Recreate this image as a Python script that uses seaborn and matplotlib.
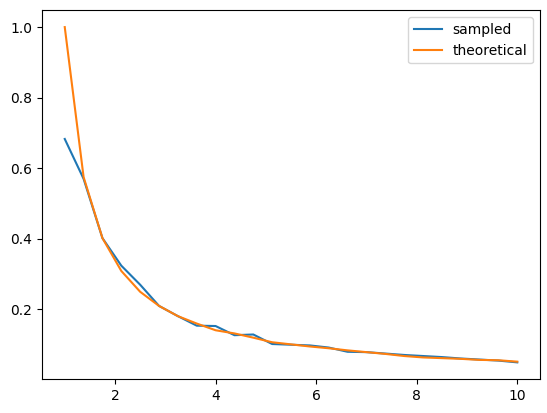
import numpy as np
import pandas as pd
import matplotlib
matplotlib.use("Agg")
import matplotlib.pyplot as plt
import seaborn as sns

# x positions: 25 points from 1 to 10
x_vals = [1.0, 1.375, 1.75, 2.125, 2.5, 2.875, 3.25, 3.625, 4.0, 4.375,
          4.75, 5.125, 5.5, 5.875, 6.25, 6.625, 7.0, 7.375, 7.75, 8.125,
          8.5, 8.875, 9.25, 9.625, 10.0]

sampled = [0.683, 0.570, 0.402, 0.324, 0.270, 0.210, 0.181, 0.154, 0.153, 0.127,
           0.129, 0.102, 0.100, 0.098, 0.092, 0.080, 0.079, 0.075, 0.071, 0.068,
           0.065, 0.061, 0.058, 0.055, 0.050]

theoretical = [1.000, 0.575, 0.402, 0.309, 0.250, 0.210, 0.181, 0.160, 0.141, 0.132,
               0.120, 0.107, 0.101, 0.095, 0.090, 0.084, 0.079, 0.074, 0.068, 0.064,
               0.062, 0.060, 0.057, 0.056, 0.052]

df = pd.DataFrame({
    "x": x_vals * 2,
    "y": sampled + theoretical,
    "series": ["sampled"] * len(x_vals) + ["theoretical"] * len(x_vals),
})

fig, ax = plt.subplots(figsize=(5.47, 4.13), dpi=100)
fig.subplots_adjust(left=0.077, right=0.987, top=0.975, bottom=0.082)

sns.lineplot(data=df, x="x", y="y", hue="series",
             palette=["#1f77b4", "#ff7f0e"], ax=ax)

ax.set_xlabel("")
ax.set_ylabel("")
ax.set_xticks([2, 4, 6, 8, 10])
ax.set_yticks([0.2, 0.4, 0.6, 0.8, 1.0])
ax.legend(title=None, loc="upper right")

plt.savefig("out.png")
plt.close()
